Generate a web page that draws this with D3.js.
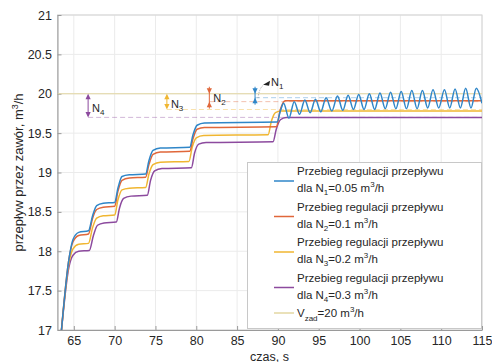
<!DOCTYPE html>
<html><head><meta charset="UTF-8">
<script src="https://d3js.org/d3.v7.min.js"></script>
<style>
body{margin:0;background:#fff}
text{font-family:"Liberation Sans",Arial,sans-serif;fill:#262626}
</style></head><body><svg id="chart" width="492" height="362"></svg>
<script>
// axis ticks
const xTicks = [65, 70, 75, 80, 85, 90, 95, 100, 105, 110, 115];
const yTicks = [17, 17.5, 18, 18.5, 19, 19.5, 20, 20.5, 21];

// [czas s, przepływ m3/h]
const seriesN1 = [[63.4,16.9],[64.4,17.9],[64.9,18.15],[65.6,18.24],[66.8,18.26],[67.3,18.45],[67.8,18.58],[68.6,18.61],[70.0,18.62],[70.4,18.8],[70.9,18.95],[71.8,18.97],[73.8,18.98],[74.2,19.15],[74.7,19.28],[75.6,19.31],[79.2,19.32],[79.6,19.48],[80.1,19.6],[81.0,19.63],[89.9,19.64],[90.3,19.78],[90.7,19.88],[91.35,19.69],[92.0,19.9],[92.65,19.74],[93.3,19.92],[93.95,19.76],[94.6,19.93],[95.25,19.77],[95.9,19.95],[96.6,19.78],[97.3,19.97],[97.95,19.79],[98.6,19.98],[99.25,19.8],[99.9,19.99],[100.55,19.8],[101.2,20.0],[101.85,19.8],[102.5,20.01],[103.15,19.81],[103.8,20.02],[104.45,19.81],[105.1,20.03],[105.75,19.81],[106.4,20.04],[107.05,19.81],[107.7,20.04],[108.35,19.82],[109.0,20.05],[109.7,19.82],[110.4,20.05],[111.05,19.82],[111.7,20.06],[112.35,19.82],[113.0,20.07],[113.65,19.82],[114.3,20.07],[115,19.88]];
const seriesN2 = [[63.4,16.9],[64.4,17.9],[64.9,18.12],[65.6,18.2],[66.8,18.22],[67.3,18.42],[67.8,18.53],[68.6,18.56],[70.0,18.57],[70.4,18.76],[70.9,18.9],[71.8,18.93],[73.8,18.94],[74.2,19.1],[74.7,19.23],[75.6,19.26],[79.2,19.27],[79.6,19.43],[80.1,19.55],[81.0,19.57],[89.8,19.58],[90.3,19.8],[90.9,19.91],[115,19.91]];
const seriesN3 = [[63.4,16.9],[64.4,17.85],[64.9,18.03],[65.6,18.09],[66.8,18.1],[67.3,18.3],[67.8,18.42],[68.6,18.45],[70.0,18.46],[70.4,18.65],[70.9,18.78],[71.8,18.8],[73.8,18.81],[74.2,18.98],[74.7,19.1],[75.6,19.13],[79.1,19.14],[79.5,19.32],[80.0,19.44],[80.9,19.47],[88.8,19.48],[89.2,19.65],[89.7,19.76],[90.4,19.78],[115,19.78]];
const seriesN4 = [[63.4,16.9],[64.4,17.8],[64.9,17.95],[65.6,18.0],[66.9,18.01],[67.4,18.2],[67.9,18.33],[68.7,18.36],[70.2,18.37],[70.6,18.55],[71.1,18.67],[72.0,18.7],[74.0,18.71],[74.4,18.9],[74.9,19.02],[75.8,19.05],[79.4,19.06],[79.8,19.25],[80.3,19.36],[81.2,19.38],[89.4,19.39],[89.8,19.55],[90.3,19.67],[91.0,19.7],[115,19.7]];

const setpoint = 20;
const tolNames = ['1', '2', '3', '4'];
const tolValues = [0.05, 0.1, 0.2, 0.3];
const tolLabels = ['0.05', '0.1', '0.2', '0.3'];
const tolAt = [87.2, 81.6, 76.4, 66.75]; // czas where each N marker stands
const colors = ['#2f86c8', '#e0673a', '#f0b631', '#8c4a9e'];
const setColor = '#e3d7a2';

const svg = d3.select('#chart');
const x = d3.scaleLinear().domain([63, 115]).range([57.5, 482]);
const y = d3.scaleLinear().domain([17, 21]).range([330, 15]);

svg.append('defs').append('clipPath').attr('id', 'clip')
  .append('rect').attr('x', 57.5).attr('y', 15).attr('width', 424.5).attr('height', 315);

// grid
const grid = svg.append('g').attr('stroke', '#ebebeb').attr('stroke-width', 1);
grid.selectAll('.gx').data(xTicks).join('line')
  .attr('x1', d => x(d)).attr('x2', d => x(d)).attr('y1', 15).attr('y2', 330);
grid.selectAll('.gy').data(yTicks).join('line')
  .attr('y1', d => y(d)).attr('y2', d => y(d)).attr('x1', 57.5).attr('x2', 482);

// box
svg.append('rect').attr('x', 57.5).attr('y', 15).attr('width', 424.5).attr('height', 315)
  .attr('fill', 'none').attr('stroke', '#d4d4d4');

const fmt = d3.format('~g');
const gx = svg.append('g').attr('transform', 'translate(0,330)')
  .call(d3.axisBottom(x).tickValues(xTicks).tickFormat(fmt).tickSizeInner(-4).tickSizeOuter(0).tickPadding(6.5));
const gy = svg.append('g').attr('transform', 'translate(57.5,0)')
  .call(d3.axisLeft(y).tickValues(yTicks).tickFormat(fmt).tickSizeInner(-4).tickSizeOuter(0).tickPadding(5.5));
[gx, gy].forEach(g => {
  g.select('.domain').attr('stroke', '#9a9a9a');
  g.selectAll('.tick line').attr('stroke', '#9a9a9a');
  g.selectAll('.tick text').attr('font-size', 12.5).attr('font-family', '"Liberation Sans",Arial,sans-serif').attr('fill', '#262626');
});

const plot = svg.append('g').attr('clip-path', 'url(#clip)');

// setpoint and tolerance lines
plot.append('line').attr('x1', x(63)).attr('x2', x(115)).attr('y1', y(setpoint)).attr('y2', y(setpoint))
  .attr('stroke', setColor).attr('stroke-width', 1.2);
tolValues.forEach((tv, i) => {
  plot.append('line').attr('x1', x(tolAt[i])).attr('x2', x(115))
    .attr('y1', y(setpoint - tv)).attr('y2', y(setpoint - tv))
    .attr('stroke', colors[i]).attr('stroke-opacity', 0.4).attr('stroke-width', 1)
    .attr('stroke-dasharray', '5,3');
});

const line = d3.line().x(d => x(d[0])).y(d => y(d[1])).curve(d3.curveMonotoneX);
const allSeries = [seriesN4, seriesN3, seriesN2, seriesN1];
const allColors = [colors[3], colors[2], colors[1], colors[0]];
allSeries.forEach((s, i) => {
  plot.append('path').datum(s).attr('d', line).attr('fill', 'none')
    .attr('stroke', allColors[i]).attr('stroke-width', 1.5);
});

// tolerance markers
function head(px, py, dir, color) {
  // dir -1 tip up, +1 tip down
  svg.append('path')
    .attr('d', `M${px},${py}L${px - 2.6},${py - dir * 5.5}L${px + 2.6},${py - dir * 5.5}Z`)
    .attr('fill', color);
}
function nLabel(px, py, sub) {
  const t = svg.append('text').attr('x', px).attr('y', py).attr('font-size', 11);
  t.append('tspan').text('N');
  t.append('tspan').attr('font-size', 8).attr('dy', 3).text(sub);
}
tolValues.forEach((tv, i) => {
  const px = x(tolAt[i]);
  const yTop = y(setpoint), yBot = y(setpoint - tv);
  const c = colors[i];
  if (tv >= 0.2) {
    svg.append('line').attr('x1', px).attr('x2', px).attr('y1', yTop + 2).attr('y2', yBot - 2)
      .attr('stroke', c).attr('stroke-width', 1);
    head(px, yTop, -1, c);
    head(px, yBot, 1, c);
    nLabel(px + 4, (yTop + yBot) / 2 + 6, tolNames[i]);
  } else {
    svg.append('line').attr('x1', px).attr('x2', px).attr('y1', yTop - 7).attr('y2', yBot + 7)
      .attr('stroke', c).attr('stroke-width', 1);
    head(px, yTop, 1, c);
    head(px, yBot, -1, c);
    if (i === 1) nLabel(px + 4, (yTop + yBot) / 2 + 4.5, tolNames[i]);
  }
});
// N1 label with a leader
const n1x = x(tolAt[0]);
svg.append('path').attr('d', `M${n1x + 3},${y(19.97) + 2}Q${n1x + 4},${y(20) - 6} ${n1x + 9},${y(20) - 9}`)
  .attr('fill', 'none').attr('stroke', '#999').attr('stroke-dasharray', '1,1.5');
svg.append('path').attr('d', `M${n1x + 8},${y(20) - 9}L${n1x + 15},${y(20) - 13}L${n1x + 14},${y(20) - 8}Z`).attr('fill', '#222');
nLabel(n1x + 16, y(20) - 8, tolNames[0]);

// legend
const lg = svg.append('g');
lg.append('rect').attr('x', 247.5).attr('y', 162.5).attr('width', 234).attr('height', 166)
  .attr('fill', '#fff').attr('stroke', '#c8c8c8');
tolValues.forEach((tv, i) => {
  const b = 175 + 35.5 * i;
  lg.append('line').attr('x1', 274).attr('x2', 294).attr('y1', b + 6).attr('y2', b + 6)
    .attr('stroke', colors[i]).attr('stroke-width', 1.5);
  lg.append('text').attr('x', 297).attr('y', b).attr('font-size', 11.5).text('Przebieg regulacji przepływu');
  const t = lg.append('text').attr('x', 297).attr('y', b + 17).attr('font-size', 11.5);
  t.append('tspan').text('dla N');
  t.append('tspan').attr('font-size', 8).attr('dy', 3).text(tolNames[i]);
  t.append('tspan').attr('dy', -3).text('=' + tolLabels[i] + ' m');
  t.append('tspan').attr('font-size', 8).attr('dy', -5).text('3');
  t.append('tspan').attr('dy', 5).text('/h');
});
lg.append('line').attr('x1', 274).attr('x2', 294).attr('y1', 313).attr('y2', 313)
  .attr('stroke', setColor).attr('stroke-width', 1.5);
const vt = lg.append('text').attr('x', 297).attr('y', 317).attr('font-size', 11.5);
vt.append('tspan').text('V');
vt.append('tspan').attr('font-size', 8).attr('dy', 4).text('zad');
vt.append('tspan').attr('dy', -4).text('=20 m');
vt.append('tspan').attr('font-size', 8).attr('dy', -5).text('3');
vt.append('tspan').attr('dy', 5).text('/h');

// axis titles
svg.append('text').attr('x', 269.5).attr('y', 360.5).attr('text-anchor', 'middle').attr('font-size', 12.5).text('czas, s');
const yl = svg.append('text').attr('transform', 'translate(23,172.5) rotate(-90)')
  .attr('text-anchor', 'middle').attr('font-size', 13);
yl.append('tspan').text('przepływ przez zawór, m');
yl.append('tspan').attr('font-size', 9).attr('dy', -5).text('3');
yl.append('tspan').attr('dy', 5).text('/h');
</script></body></html>
